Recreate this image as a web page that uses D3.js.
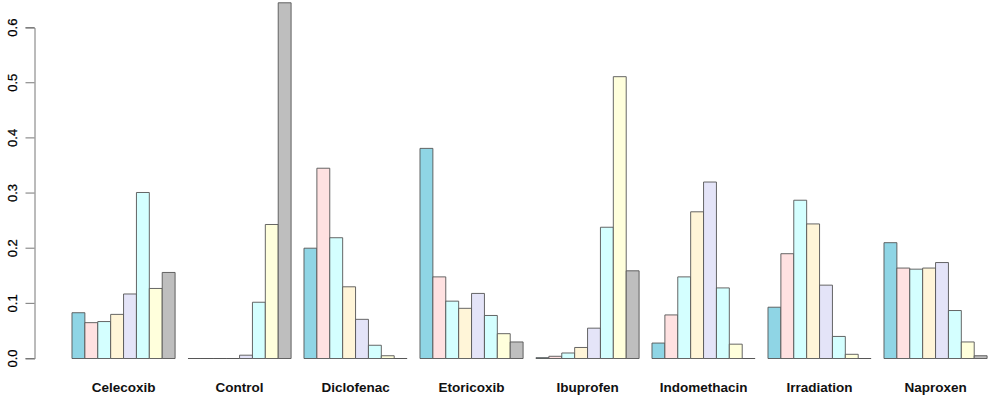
<!DOCTYPE html>
<html>
<head>
<meta charset="utf-8">
<script src="https://cdn.jsdelivr.net/npm/d3@7"></script>
<style>
  body { margin: 0; background: #fff; }
  svg text { font-family: "Liberation Sans", Arial, sans-serif; }
</style>
</head>
<body>
<div id="chart"></div>
<script>
// categories (groups)
const categories = ["Celecoxib", "Control", "Diclofenac", "Etoricoxib", "Ibuprofen", "Indomethacin", "Irradiation", "Naproxen"];

// one array per series (bar position inside each group)
const series1 = [0.083, 0.000, 0.200, 0.381, 0.0015, 0.028, 0.093, 0.210];
const series2 = [0.065, 0.000, 0.345, 0.148, 0.004, 0.079, 0.190, 0.164];
const series3 = [0.067, 0.000, 0.219, 0.104, 0.010, 0.148, 0.287, 0.162];
const series4 = [0.080, 0.000, 0.130, 0.091, 0.020, 0.266, 0.244, 0.164];
const series5 = [0.117, 0.006, 0.071, 0.118, 0.055, 0.320, 0.133, 0.174];
const series6 = [0.301, 0.102, 0.024, 0.078, 0.238, 0.128, 0.040, 0.087];
const series7 = [0.127, 0.243, 0.005, 0.045, 0.511, 0.026, 0.0076, 0.030];
const series8 = [0.156, 0.645, 0.000, 0.030, 0.159, 0.000, 0.000, 0.005];

const yTicks = [0.0, 0.1, 0.2, 0.3, 0.4, 0.5, 0.6];

const seriesList = [series1, series2, series3, series4, series5, series6, series7, series8];
const colors = ["#8fd5e5", "#ffe1e1", "#d4ffff", "#fff5d8", "#e4e4f8", "#d4ffff", "#ffffdc", "#bebebe"];

const width = 989, height = 399;
const margin = { top: 0, left: 72, right: 2, bottom: 0 };
const baseY = 358.5, topY = 27.6; // 0.0 and 0.6

const svg = d3.select("#chart").append("svg")
    .attr("width", width)
    .attr("height", height);

// y scale
const y = d3.scaleLinear().domain([0, 0.6]).range([baseY, topY]);

// group scale: R-like spacing, 8 bars + 1 gap per group
const x0 = d3.scaleBand()
    .domain(categories)
    .range([margin.left - 12.9 * 0.5, margin.left + 116 * 8 - 12.9 * 0.5])
    .paddingInner(1 / 9)
    .paddingOuter(1 / 18);

const x1 = d3.scaleBand()
    .domain(d3.range(seriesList.length))
    .range([0, x0.bandwidth()]);

// bars drawn as paths so zero-height bars still show as a line
function barPath(d) {
    const p = d3.path();
    const xa = x1(d.k), xb = xa + x1.bandwidth();
    p.moveTo(xa, baseY);
    p.lineTo(xa, y(d.v));
    p.lineTo(xb, y(d.v));
    p.lineTo(xb, baseY);
    p.closePath();
    return p.toString();
}

const groups = svg.append("g").selectAll("g")
    .data(categories)
    .join("g")
    .attr("transform", d => `translate(${x0(d)},0)`);

groups.selectAll("path")
    .data((d, i) => seriesList.map((s, k) => ({ k: k, v: s[i] })))
    .join("path")
    .attr("d", barPath)
    .attr("fill", d => colors[d.k])
    .attr("stroke", "#555")
    .attr("stroke-width", 0.9);

// y axis
const yAxis = d3.axisLeft(y)
    .tickValues(yTicks)
    .tickFormat(d3.format(".1f"))
    .tickSize(9)
    .tickPadding(7);

const ga = svg.append("g")
    .attr("transform", "translate(34.5,0)")
    .call(yAxis);

ga.select(".domain").attr("stroke", "#777");
ga.selectAll(".tick line").attr("stroke", "#777");
ga.selectAll(".tick text")
    .attr("transform", "rotate(-90)")
    .attr("x", d => -y(d))
    .attr("y", -22)
    .attr("dy", "0.35em")
    .attr("text-anchor", "middle")
    .attr("font-size", 13)
    .attr("fill", "#000")
    .attr("stroke", "#000")
    .attr("stroke-width", 0.25);
ga.selectAll(".tick").attr("transform", null);
ga.selectAll(".tick line").attr("transform", d => `translate(0,${y(d)})`);

// category labels
svg.append("g").selectAll("text")
    .data(categories)
    .join("text")
    .attr("x", d => x0(d) + x0.bandwidth() / 2)
    .attr("y", 391.5)
    .attr("text-anchor", "middle")
    .attr("font-size", 13.5)
    .attr("font-weight", "bold")
    .attr("fill", "#111")
    .text(d => d);
</script>
</body>
</html>
